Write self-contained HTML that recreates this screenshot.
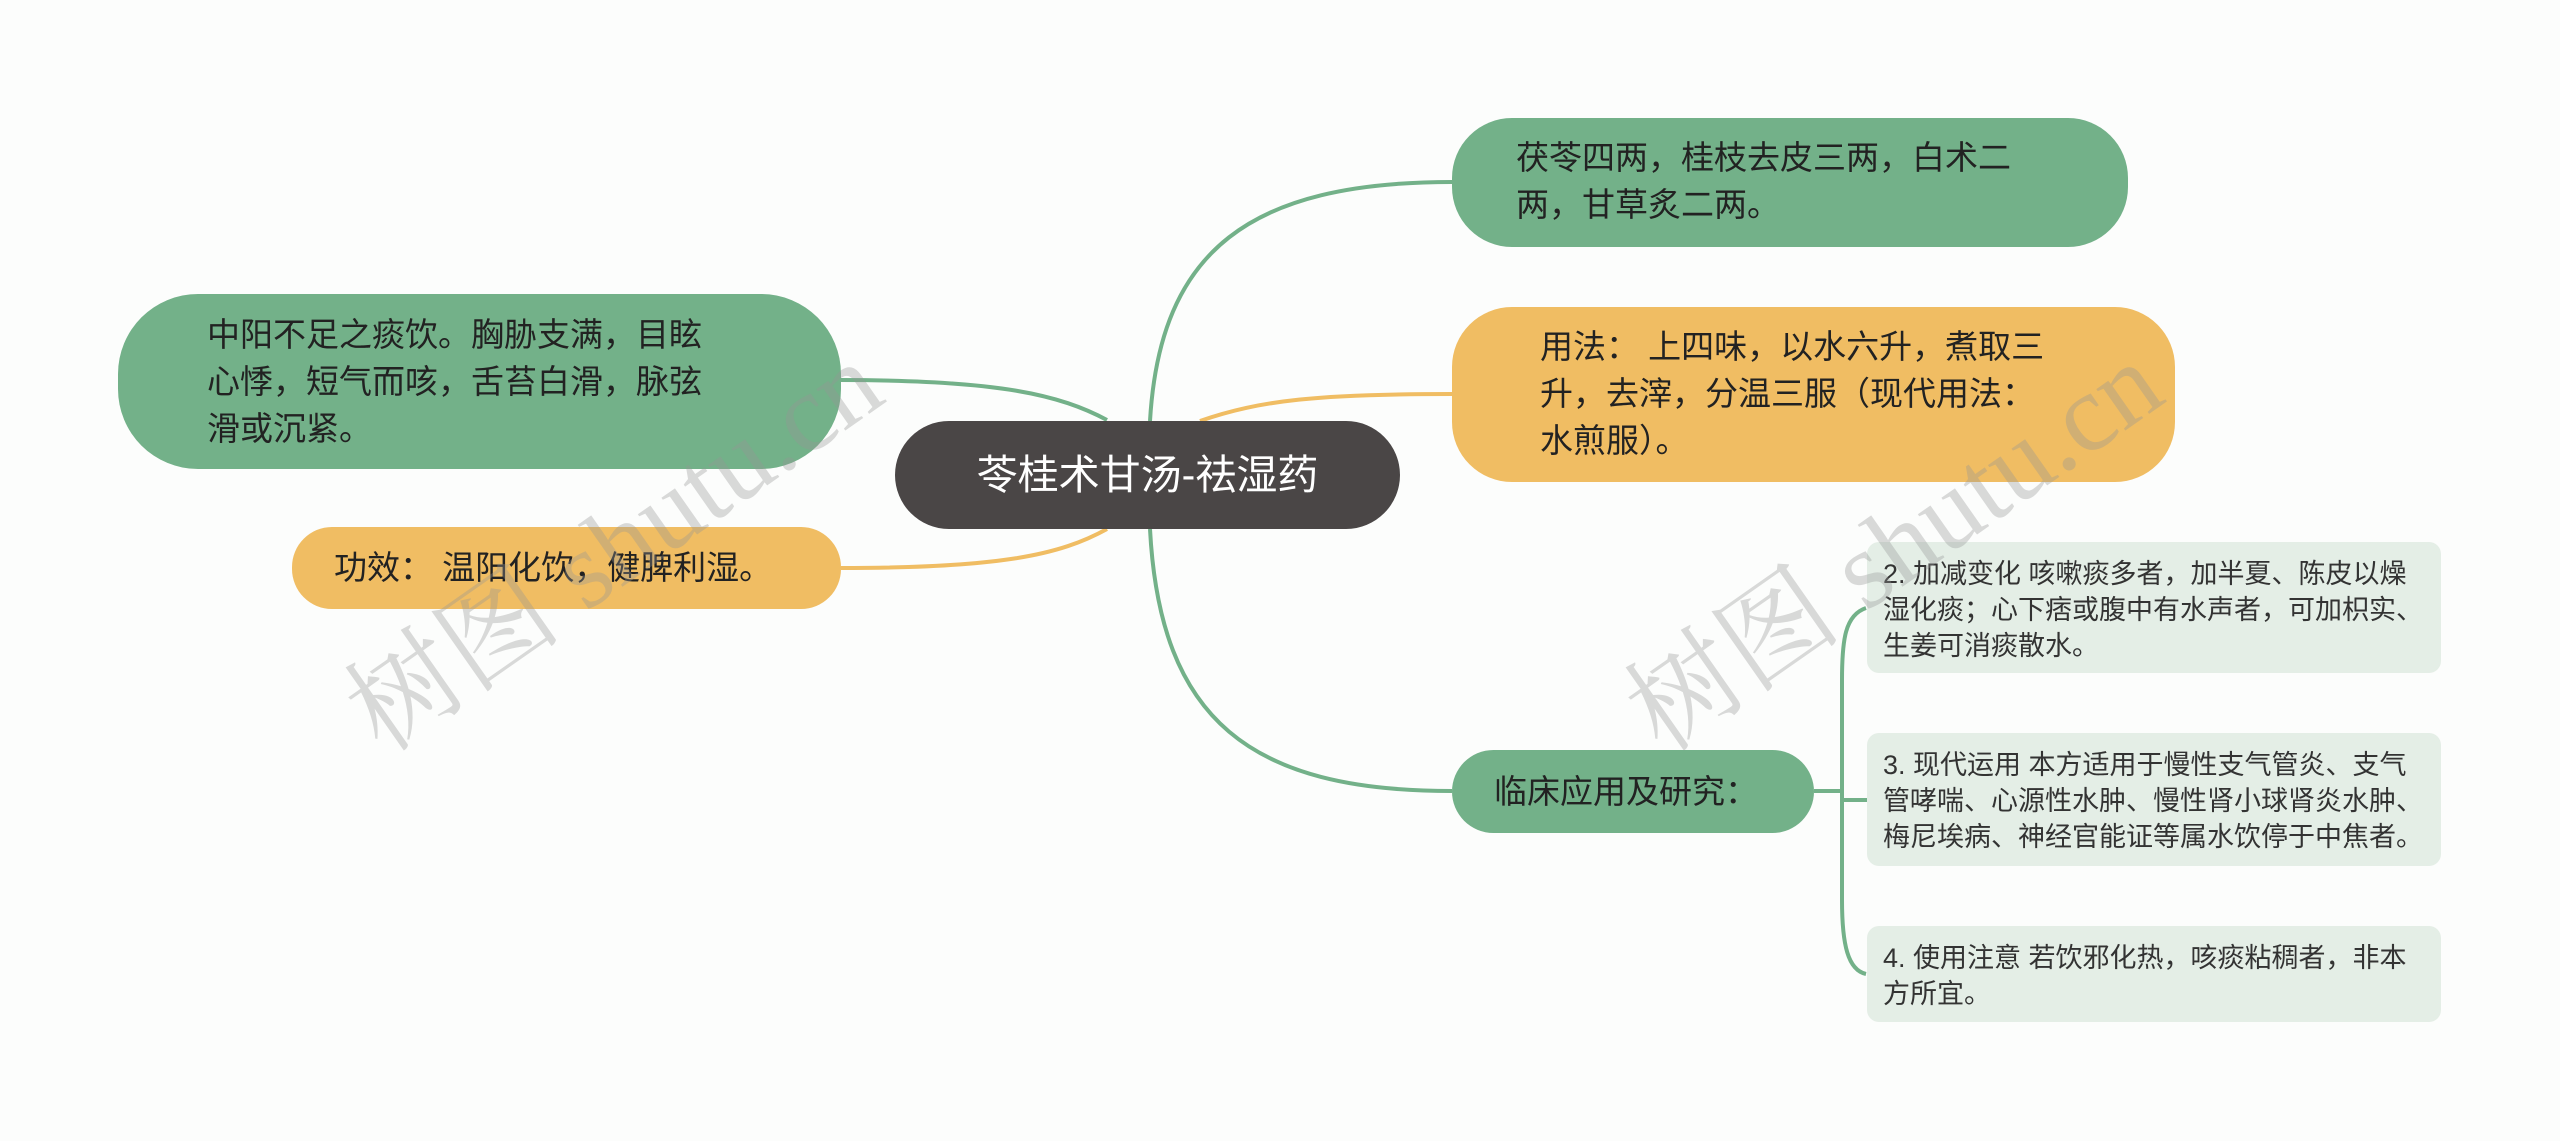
<!DOCTYPE html>
<html><head><meta charset="utf-8"><style>
body{margin:0;width:2560px;height:1141px;background:#fcfdfc;position:relative;overflow:hidden;font-family:"Liberation Sans","Noto Sans CJK SC",sans-serif;}
.n{position:absolute;box-sizing:border-box;color:#222;}
.g{background:#73b189;border-radius:60px;}
.o{background:#f0bd63;border-radius:60px;}
.s{background:#e4eee6;border-radius:12px;font-size:27px;line-height:36px;padding:14px 8px 14px 16px;color:#333;}
.t{position:absolute;font-size:33px;line-height:47px;}
.wm{position:absolute;font-family:"Liberation Serif","Noto Serif CJK SC",serif;font-size:110px;color:rgba(150,150,150,0.35);transform:rotate(-35deg);white-space:nowrap;}
</style></head><body>
<svg width="2560" height="1141" style="position:absolute;left:0;top:0">
<g fill="none" stroke-width="4">
<path d="M1150 421 C1160 250 1250 182 1452 182" stroke="#73b189"/>
<path d="M1200 421 C1260 400 1320 394 1452 394" stroke="#f0bd63"/>
<path d="M1107 420 C1060 395 1000 380 839 380" stroke="#73b189"/>
<path d="M1107 529 C1060 555 1000 568 841 568" stroke="#f0bd63"/>
<path d="M1150 529 C1160 720 1250 791 1452 791" stroke="#73b189"/>
<path d="M1814 791 L1842 791" stroke="#73b189"/>
<path d="M1866 608 C1845 615 1842 640 1842 680 L1842 900 C1842 945 1848 970 1866 974" stroke="#73b189"/>
<path d="M1842 800 L1867 800" stroke="#73b189"/>
</g></svg>
<div class="n g" style="left:1452px;top:118px;width:676px;height:129px"><div class="t" style="left:64px;top:16px;width:545px">茯苓四两，桂枝去皮三两，白术二两，甘草炙二两。</div></div>
<div class="n o" style="left:1452px;top:307px;width:723px;height:175px"><div class="t" style="left:88px;top:16px;width:518px">用法： 上四味，以水六升，煮取三升，去滓，分温三服（现代用法：水煎服）。</div></div>
<div class="n g" style="left:1452px;top:750px;width:362px;height:83px;border-radius:42px"><div class="t" style="left:42px;top:18px;white-space:nowrap">临床应用及研究：</div></div>
<div class="n s" style="left:1867px;top:542px;width:574px;height:131px">2. 加减变化 咳嗽痰多者，加半夏、陈皮以燥湿化痰；心下痞或腹中有水声者，可加枳实、生姜可消痰散水。</div>
<div class="n s" style="left:1867px;top:733px;width:574px;height:133px">3. 现代运用 本方适用于慢性支气管炎、支气管哮喘、心源性水肿、慢性肾小球肾炎水肿、梅尼埃病、神经官能证等属水饮停于中焦者。</div>
<div class="n s" style="left:1867px;top:926px;width:574px;height:96px">4. 使用注意 若饮邪化热，咳痰粘稠者，非本方所宜。</div>
<div class="n g" style="left:118px;top:294px;width:723px;height:175px;border-radius:80px"><div class="t" style="left:89px;top:17px;width:520px">中阳不足之痰饮。胸胁支满，目眩心悸，短气而咳，舌苔白滑，脉弦滑或沉紧。</div></div>
<div class="n o" style="left:292px;top:527px;width:549px;height:82px;border-radius:40px"><div class="t" style="left:42px;top:17px;white-space:nowrap">功效： 温阳化饮，健脾利湿。</div></div>
<div class="n" style="left:895px;top:421px;width:505px;height:108px;background:#4a4646;border-radius:54px;color:#fff;font-size:41px;line-height:108px;text-align:center">苓桂术甘汤-祛湿药</div>
<div class="wm" style="left:300px;top:460px">树图 shutu.cn</div>
<div class="wm" style="left:1580px;top:460px">树图 shutu.cn</div>
</body></html>
